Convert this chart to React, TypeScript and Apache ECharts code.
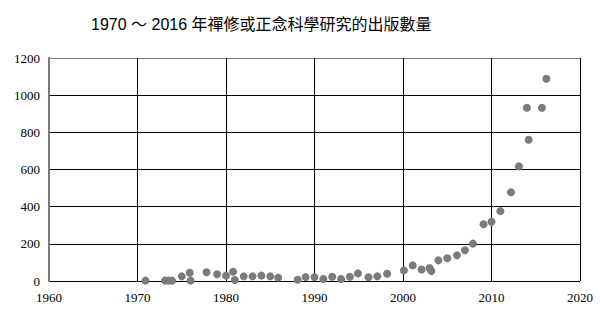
import React, { useEffect, useRef } from "react";
import * as echarts from "echarts";

const titleText = "1970 ～ 2016 年禪修或正念科學研究的出版數量";

const years = [
  1970.9, 1973.1, 1973.5, 1973.9, 1975.0, 1975.9, 1976.0, 1977.8, 1979.0, 1980.0,
  1980.8, 1981.0, 1982.0, 1983.0, 1984.0, 1985.0, 1985.9, 1988.1, 1989.0, 1990.0,
  1991.0, 1992.0, 1993.0, 1994.0, 1994.9, 1996.1, 1997.1, 1998.2, 2000.1, 2001.1,
  2002.1, 2003.0, 2003.2, 2004.0, 2005.0, 2006.1, 2007.0, 2007.9, 2009.1, 2010.0,
  2011.0, 2012.2, 2013.1, 2014.0, 2014.2, 2015.7, 2016.2,
];
const counts = [
  2, 2, 2, 2, 25, 44, 2, 47, 36, 29,
  50, 5, 25, 25, 29, 25, 18, 7, 21, 21,
  11, 23, 11, 23, 41, 20, 25, 39, 57, 84,
  62, 70, 54, 111, 122, 138, 165, 201, 305, 319,
  376, 478, 617, 932, 760, 932, 1088,
];

const xTicks = [1960, 1970, 1980, 1990, 2000, 2010, 2020];
const yTicks = [0, 200, 400, 600, 800, 1000, 1200];

const SERIF = "Liberation Serif";

export default function App() {
  const ref = useRef<HTMLDivElement>(null);
  useEffect(() => {
    if (!ref.current) return;
    const chart = echarts.init(ref.current, undefined, { renderer: "svg" });
    const axisFont = {
      fontFamily: SERIF,
      fontSize: 13,
      color: "#000",
    };
    chart.setOption({
      animation: false,
      backgroundColor: "#fff",
      textStyle: { fontFamily: SERIF },
      title: {
        text: titleText,
        left: 86,
        top: 11,
        textStyle: {
          fontFamily: "Liberation Sans, Noto Sans CJK TC, sans-serif",
          fontSize: 16,
          fontWeight: "normal",
          color: "#000",
        },
      },
      grid: { left: 49, right: 20, top: 58, bottom: 37 },
      xAxis: {
        type: "value",
        min: xTicks[0],
        max: xTicks[xTicks.length - 1],
        interval: 10,
        axisLine: { show: false },
        axisTick: { show: false },
        axisLabel: { ...axisFont, margin: 10, formatter: (v: number) => String(v) },
        splitLine: {
          show: true,
          lineStyle: {
            color: ["#7a7a7a", "#000", "#000", "#000", "#000", "#000", "#000"],
            width: 1,
          },
        },
      },
      yAxis: {
        type: "value",
        min: yTicks[0],
        max: yTicks[yTicks.length - 1],
        interval: 200,
        axisLine: { show: true, lineStyle: { color: "#7a7a7a", width: 2 } },
        axisTick: { show: false },
        axisLabel: { ...axisFont, margin: 9, formatter: (v: number) => String(v) },
        splitLine: {
          show: true,
          lineStyle: {
            color: ["#000", "#000", "#000", "#000", "#000", "#000", "#7a7a7a"],
            width: 1,
          },
        },
      },
      series: [
        {
          type: "scatter",
          data: years.map((y, i) => [y, counts[i]]),
          symbol: "circle",
          symbolSize: 8,
          itemStyle: { color: "#7b7b7b", opacity: 1 },
          clip: false,
          z: 5,
        },
      ],
    });
    return () => chart.dispose();
  }, []);
  return <div ref={ref} style={{ width: 600, height: 318, position: "absolute", left: 0, top: 0 }} />;
}
